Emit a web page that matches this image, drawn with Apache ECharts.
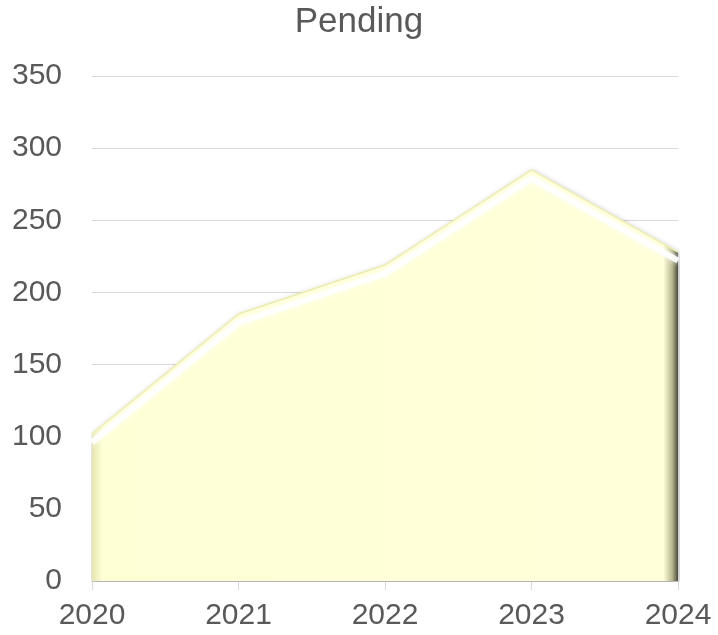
<!DOCTYPE html>
<html>
<head>
<meta charset="utf-8">
<script src="https://cdn.jsdelivr.net/npm/echarts@6/dist/echarts.min.js"></script>
<style>html,body{margin:0;padding:0;background:#fff;}#c{width:718px;height:635px;}</style>
</head>
<body>
<div id="c"></div>
<script>
const categories = ['2020', '2021', '2022', '2023', '2024'];
const pending = [102, 185, 219, 285, 228];
const yTicks = { min: 0, max: 350, interval: 50 };

const font = 'Liberation Sans, Arial, sans-serif';
const chart = echarts.init(document.getElementById('c'));
chart.setOption({
  animation: false,
  title: {
    text: 'Pending', left: 'center', top: 0,
    textStyle: { fontFamily: font, fontSize: 35, fontWeight: 'normal', color: '#595959' }
  },
  grid: { left: 92, right: 40, top: 76, bottom: 54 },
  xAxis: {
    type: 'category', data: categories, boundaryGap: false,
    axisLine: { lineStyle: { color: '#D9D9D9', width: 1 } },
    axisTick: { show: true, length: 9, lineStyle: { color: '#D9D9D9' } },
    axisLabel: { fontFamily: font, fontSize: 30, color: '#595959', margin: 20 },
    splitLine: { show: false }
  },
  yAxis: {
    type: 'value', min: yTicks.min, max: yTicks.max, interval: yTicks.interval,
    axisLine: { show: false }, axisTick: { show: false },
    axisLabel: { fontFamily: font, fontSize: 30, color: '#595959', margin: 30 },
    splitLine: { lineStyle: { color: '#D9D9D9', width: 1 } }
  },
  series: [{
    type: 'line', data: pending, symbol: 'none',
    lineStyle: { color: '#EDEDB0', width: 1.5 },
    areaStyle: {
      color: new echarts.graphic.LinearGradient(0, 0, 1, 0, [
        { offset: 0, color: '#E6E6B0' },
        { offset: 0.018, color: '#FFFFD6' },
        { offset: 0.975, color: '#FFFFD9' },
        { offset: 0.99, color: '#B8B890' },
        { offset: 1, color: '#4A4A3A' }
      ]),
      opacity: 1,
      shadowColor: 'rgba(0,0,0,0.35)', shadowBlur: 6, shadowOffsetX: 1, shadowOffsetY: 2
    }
  }, {
    type: 'line', data: pending, symbol: 'none', silent: true,
    lineStyle: { width: 0, opacity: 0 },
    areaStyle: {
      origin: 'start',
      color: new echarts.graphic.LinearGradient(0, 0, 0, 1, [
        { offset: 0, color: 'rgba(120,120,80,0)' },
        { offset: 0.96, color: 'rgba(120,120,80,0)' },
        { offset: 1, color: 'rgba(120,120,80,0.45)' }
      ]),
      opacity: 1
    },
    z: 2
  }, {
    type: 'line', data: pending.map(v => v - 6), symbol: 'none', silent: true,
    lineStyle: { color: '#FFFFFF', width: 6, opacity: 0.9, shadowColor: 'rgba(255,255,255,0.9)', shadowBlur: 6 },
    z: 3
  }]
});
</script>
</body>
</html>
